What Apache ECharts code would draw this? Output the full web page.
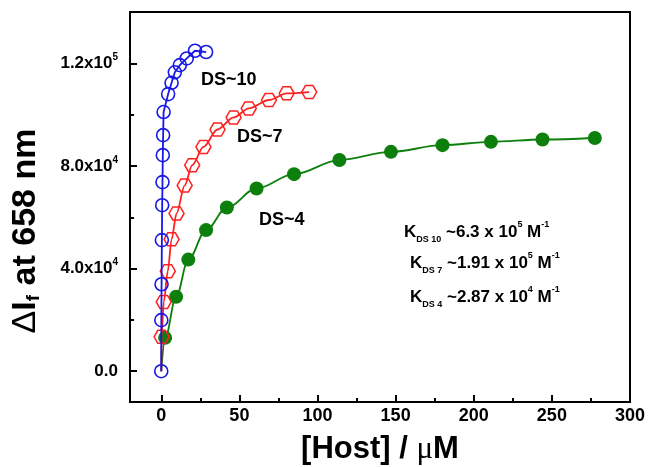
<!DOCTYPE html>
<html><head><meta charset="utf-8">
<script src="https://cdn.jsdelivr.net/npm/echarts@6/dist/echarts.min.js"></script>
<style>html,body{margin:0;padding:0;background:#fff}#c{width:648px;height:467px}</style>
</head><body><div id="c"></div>
<script>
// ---- data ----
const ds10X = [0, 0.05, 0.2, 0.4, 0.6, 0.8, 1.0, 1.2, 1.5, 4.4, 6.6, 8.7, 11.9, 16.3, 21.6, 28.7];
const ds10Y = [0, 19900, 33900, 51100, 64700, 73700, 84200, 92000, 101000, 108000, 112400, 116500, 119300, 121900, 124900, 124400];
const ds7X = [0, 0.2, 1.6, 4.2, 6.6, 9.8, 15.0, 19.8, 27.0, 36.0, 46.3, 56.0, 68.9, 80.3, 94.7];
const ds7Y = [0, 13400, 27000, 39000, 51400, 61500, 72400, 80300, 87400, 94200, 98900, 102400, 105700, 108300, 108800];
const ds4X = [0, 2.5, 9.5, 17.3, 28.7, 42.0, 61.0, 85.0, 114.0, 147.0, 180.0, 211.0, 244.0, 277.5];
const ds4Y = [0, 13000, 29000, 43500, 55000, 63800, 71200, 76800, 82300, 85500, 88100, 89400, 90300, 90900];
const seriesNames = ['DS~10', 'DS~7', 'DS~4'];
const xTicks = [0, 50, 100, 150, 200, 250, 300];
const xMinorTicks = [25, 75, 125, 175, 225, 275];
const yTicks = [0, 40000, 80000, 120000];
const yTickLabels = ['0.0', '4.0x10^4', '8.0x10^4', '1.2x10^5'];
const yMinorTicks = [20000, 60000, 100000];
const kSub = ['DS 10', 'DS 7', 'DS 4'];
const kValue = ['~6.3 x 10', '~1.91 x 10', '~2.87 x 10'];
const kExp = ['5', '5', '4'];

// ---- styling / layout ----
const FONT = 'Liberation Sans';
const BLUE = '#1818e6', RED = '#ff2020', GREEN = '#0c7f0c';
const HEX = 'path://M0,50 L25,6.7 L75,6.7 L100,50 L75,93.3 L25,93.3 Z';

function pts(xs, ys, hideFirst) {
  return xs.map((x, i) => {
    if (hideFirst && i === 0) return { value: [x, ys[i]], symbol: 'none' };
    return [x, ys[i]];
  });
}
function yLabel(v) {
  const i = yTicks.indexOf(v);
  if (i < 0) return '';
  const parts = yTickLabels[i].split('^');
  return parts.length > 1 ? '{m|' + parts[0] + '}{e|' + parts[1] + '}' : '{m|' + parts[0] + '}';
}

const lineAxisStyle = { color: '#000', width: 2 };
const tickStyle = { color: '#000', width: 2 };
const chart = echarts.init(document.getElementById('c'), null, { renderer: 'canvas' });
chart.setOption({
  animation: false,
  backgroundColor: '#fff',
  grid: { left: 130, top: 12, right: 18, bottom: 65, show: true, borderColor: '#000', borderWidth: 2, backgroundColor: 'transparent', containLabel: false, outerBoundsMode: 'none' },
  xAxis: [
    {
      type: 'value', min: -20, max: 300, position: 'bottom',
      axisLine: { show: true, onZero: false, lineStyle: lineAxisStyle },
      axisTick: { show: true, inside: true, length: 7, lineStyle: tickStyle, customValues: xTicks },
      axisLabel: { customValues: xTicks, margin: 5, fontSize: 18, fontWeight: 'bold', color: '#000', fontFamily: FONT },
      splitLine: { show: false },
      name: '{a|[Host] / }{mu|μ}{a|M}', nameLocation: 'middle', nameGap: 32,
      nameTextStyle: {
        rich: {
          a: { fontSize: 31, fontWeight: 'bold', fontFamily: FONT, color: '#000' },
          mu: { fontSize: 31, fontWeight: 'normal', fontFamily: 'Liberation Serif', color: '#000' }
        }
      }
    },
    {
      type: 'value', min: -20, max: 300, position: 'bottom',
      axisLine: { show: false, onZero: false },
      axisTick: { show: true, inside: true, length: 4, lineStyle: tickStyle, customValues: xMinorTicks },
      axisLabel: { show: false }, splitLine: { show: false }
    }
  ],
  yAxis: [
    {
      type: 'value', min: -12000, max: 140000, position: 'left',
      axisLine: { show: true, onZero: false, lineStyle: lineAxisStyle },
      axisTick: { show: true, inside: true, length: 7, lineStyle: tickStyle, customValues: yTicks },
      axisLabel: {
        customValues: yTicks, margin: 12, formatter: yLabel,
        rich: {
          m: { fontSize: 17, fontWeight: 'bold', fontFamily: FONT, color: '#000', lineHeight: 22 },
          e: { fontSize: 10, fontWeight: 'bold', fontFamily: FONT, color: '#000', lineHeight: 14, verticalAlign: 'top' }
        }
      },
      splitLine: { show: false }
    },
    {
      type: 'value', min: -12000, max: 140000, position: 'left',
      axisLine: { show: false, onZero: false },
      axisTick: { show: true, inside: true, length: 4, lineStyle: tickStyle, customValues: yMinorTicks },
      axisLabel: { show: false }, splitLine: { show: false }
    }
  ],
  series: [
    {
      name: seriesNames[2], type: 'line', data: pts(ds4X, ds4Y, true),
      smooth: 0.35, smoothMonotone: 'x',
      lineStyle: { color: GREEN, width: 1.8 },
      symbol: 'circle', symbolSize: 14,
      itemStyle: { color: GREEN, borderColor: GREEN, borderWidth: 0 }, z: 2
    },
    {
      name: seriesNames[1], type: 'line', data: pts(ds7X, ds7Y, true),
      smooth: 0.3, smoothMonotone: 'x',
      lineStyle: { color: RED, width: 1.8 },
      symbol: HEX, symbolSize: 15, symbolKeepAspect: true,
      itemStyle: { color: 'rgba(0,0,0,0)', borderColor: RED, borderWidth: 1.5 }, z: 3
    },
    {
      name: seriesNames[0], type: 'line', data: pts(ds10X, ds10Y, false),
      smooth: false,
      lineStyle: { color: BLUE, width: 1.8 },
      symbol: 'circle', symbolSize: 13,
      itemStyle: { color: 'rgba(0,0,0,0)', borderColor: BLUE, borderWidth: 1.6 }, z: 4
    }
  ],
  graphic: [
    {
      type: 'text', x: 26, y: 231, rotation: Math.PI / 2,
      style: {
        text: '{d|Δ}{a|I}{s|f}{a| at 658 nm}', align: 'center', verticalAlign: 'middle',
        rich: {
          d: { fontSize: 34, fontFamily: FONT, fontWeight: 'normal', fill: '#000', lineHeight: 34 },
          a: { fontSize: 34, fontFamily: FONT, fontWeight: 'bold', fill: '#000', lineHeight: 34 },
          s: { fontSize: 19, fontFamily: FONT, fontWeight: 'bold', fill: '#000', lineHeight: 19, verticalAlign: 'bottom' }
        }
      }
    },
    { type: 'text', x: 201, y: 80, style: { text: seriesNames[0], font: 'bold 18px ' + FONT, fill: '#000', verticalAlign: 'middle' } },
    { type: 'text', x: 237, y: 137, style: { text: seriesNames[1], font: 'bold 18px ' + FONT, fill: '#000', verticalAlign: 'middle' } },
    { type: 'text', x: 259, y: 220, style: { text: seriesNames[2], font: 'bold 18px ' + FONT, fill: '#000', verticalAlign: 'middle' } }
  ].concat([0, 1, 2].map(i => ({
    type: 'text', x: i === 0 ? 404 : 410, y: [232, 263, 297][i],
    style: {
      text: '{k|K}{s|' + kSub[i] + '}{k| ' + kValue[i] + '}{e|' + kExp[i] + '}{k| M}{e|-1}',
      verticalAlign: 'middle',
      rich: {
        k: { fontSize: 17, fontFamily: FONT, fontWeight: 'bold', fill: '#000', lineHeight: 24 },
        s: { fontSize: 9, fontFamily: FONT, fontWeight: 'bold', fill: '#000', lineHeight: 9, verticalAlign: 'bottom' },
        e: { fontSize: 9, fontFamily: FONT, fontWeight: 'bold', fill: '#000', lineHeight: 16, verticalAlign: 'top' }
      }
    }
  })))
});
</script></body></html>
